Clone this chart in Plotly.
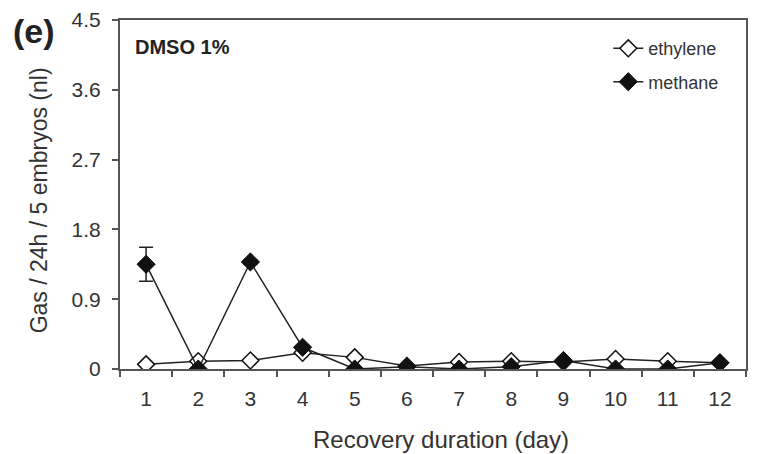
import plotly.graph_objects as go

days = ["1", "2", "3", "4", "5", "6", "7", "8", "9", "10", "11", "12"]
ethylene = [0.06, 0.10, 0.11, 0.21, 0.15, 0.04, 0.09, 0.10, 0.09, 0.13, 0.10, 0.08]
ethylene_err = [0.01, 0.01, 0.01, 0.02, 0.01, 0.01, 0.01, 0.01, 0.01, 0.01, 0.01, 0.01]
methane = [1.35, 0.00, 1.38, 0.28, 0.00, 0.03, 0.00, 0.03, 0.11, 0.00, 0.00, 0.08]
methane_err = [0.22, 0.00, 0.03, 0.02, 0.00, 0.00, 0.00, 0.00, 0.01, 0.00, 0.00, 0.01]
y_ticks = [0, 0.9, 1.8, 2.7, 3.6, 4.5]
y_tick_text = ["0", "0.9", "1.8", "2.7", "3.6", "4.5"]

font = "Liberation Sans, Arial, sans-serif"
fig = go.Figure()
fig.add_trace(go.Scatter(
    x=days, y=ethylene, name="ethylene", mode="lines+markers", legendgroup="a",
    line=dict(color="#222", width=1.5),
    marker=dict(symbol="diamond", size=13, color="white", line=dict(color="#111", width=1.5)),
    error_y=dict(type="data", array=ethylene_err, color="#222", thickness=1.5, width=6),
))
fig.add_trace(go.Scatter(
    x=days, y=methane, name="methane", mode="lines+markers", legendgroup="b",
    line=dict(color="#222", width=1.5),
    marker=dict(symbol="diamond", size=14, color="#111", line=dict(color="#111", width=1)),
    error_y=dict(type="data", array=methane_err, color="#222", thickness=1.5, width=7),
))

fig.update_layout(
    width=757, height=454,
    margin=dict(l=112, r=19, t=12, b=93),
    paper_bgcolor="white", plot_bgcolor="white",
    font=dict(family=font, size=21, color="#333"),
    showlegend=True,
    legend=dict(x=0.78, y=0.971, xanchor="left", yanchor="top",
                bgcolor="rgba(0,0,0,0)", font=dict(size=18, color="#333"),
                tracegroupgap=7),
    annotations=[
        dict(text="<b>DMSO 1%</b>", x=0.021, y=0.923, xref="paper", yref="paper",
             xanchor="left", yanchor="middle", showarrow=False, font=dict(size=20, color="#222")),
        dict(text="<b>(e)</b>", x=-0.138, y=0.968, xref="paper", yref="paper",
             xanchor="center", yanchor="middle", showarrow=False, font=dict(size=34, color="#222")),
        dict(text="Recovery duration (day)", x=0.512, y=-0.203, xref="paper", yref="paper",
             xanchor="center", yanchor="middle", showarrow=False, font=dict(size=24, color="#333")),
        dict(text="Gas / 24h / 5 embryos (nl)", x=-0.129, y=0.484, xref="paper", yref="paper",
             xanchor="center", yanchor="middle", showarrow=False, textangle=-90,
             font=dict(size=23, color="#333")),
    ],
)
fig.update_xaxes(
    type="category", range=[-0.5, 11.5], automargin=False,
    showline=True, linecolor="#555", linewidth=2, mirror=True,
    ticks="outside", tickson="boundaries", ticklen=6, tickcolor="#555", tickwidth=1.5,
    ticklabelstandoff=10,
    showgrid=False, zeroline=False,
)
fig.update_yaxes(
    range=[0, 4.5], tickvals=y_ticks, ticktext=y_tick_text, automargin=False,
    showline=True, linecolor="#555", linewidth=2, mirror=True,
    ticks="outside", ticklen=6, tickcolor="#555", tickwidth=1.5,
    ticklabelstandoff=7,
    showgrid=False, zeroline=False,
)
fig.write_html("out.html")
